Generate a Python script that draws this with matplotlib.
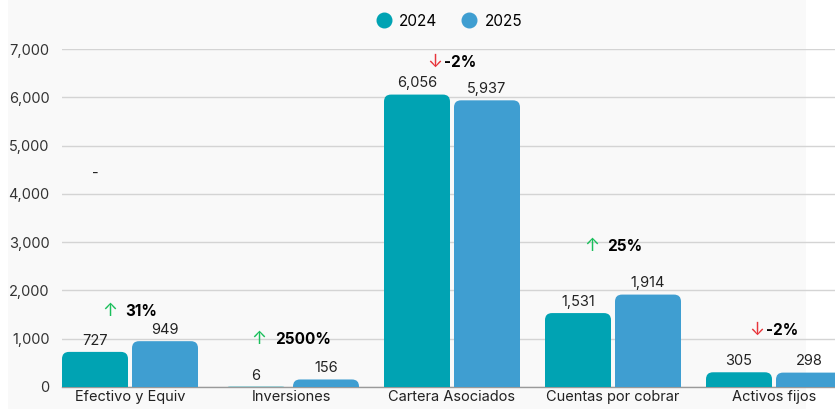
import matplotlib
matplotlib.use("Agg")
import matplotlib.pyplot as plt
from matplotlib.patches import FancyBboxPatch, Rectangle
from matplotlib.offsetbox import TextArea, HPacker, AnnotationBbox

categories = ["Efectivo y Equiv", "Inversiones", "Cartera Asociados", "Cuentas por cobrar", "Activos fijos"]
values_2024 = [727, 6, 6056, 1531, 305]
values_2025 = [949, 156, 5937, 1914, 298]
pct_change = [31, 2500, -2, 25, -2]
pct_label_y = [1570, 990, 6730, 2920, 1180]
series_names = ["2024", "2025"]
y_ticks = [0, 1000, 2000, 3000, 4000, 5000, 6000, 7000]

c2024 = "#00a3b3"
c2025 = "#3f9ed1"
green = "#1bbf5c"
red = "#e8353b"
fam = ["Inter", "DejaVu Sans"]
plt.rcParams["font.family"] = fam

W, H = 835, 409
fig = plt.figure(figsize=(W / 100, H / 100), dpi=100)
fig.patch.set_facecolor("white")
fig.patches.append(Rectangle((8 / W, 0), (806 - 8) / W, 1, transform=fig.transFigure,
                             facecolor="#f9f9f9", edgecolor="none", zorder=-10))

ax = fig.add_axes([62 / W, (H - 387) / H, (835 - 62) / W, (387 - 49) / H])
ax.set_facecolor("none")

x = list(range(len(categories)))
bw = 66 / 161
gap = 4 / 161
ax.set_xlim(-68 / 161, (835 - 130) / 161)
ax.set_ylim(0, 7000)

# rounded bars: draw via bar() then swap for rounded patches
px_x = 161
px_y = 338 / 7000
rad = 7
for vals, col, off in [(values_2024, c2024, -(bw + gap) / 2), (values_2025, c2025, (bw + gap) / 2)]:
    bars = ax.bar([i + off for i in x], vals, width=bw, color=col)
    for b, v in zip(bars, vals):
        b.set_visible(False)
        p = FancyBboxPatch((b.get_x(), -rad / px_y), b.get_width(), v + rad / px_y,
                           boxstyle=f"round,pad=0,rounding_size={rad / px_x}",
                           mutation_aspect=px_x / px_y, facecolor=col, edgecolor="none",
                           zorder=3, clip_on=True)
        ax.add_patch(p)
        ax.annotate(f"{v:,}", (b.get_x() + b.get_width() / 2, v), xytext=(0, 3),
                    textcoords="offset points", ha="center", va="bottom",
                    fontsize=10.5, color="#222222")

# stray dash label seen in the reference
ax.text(-(bw + gap) / 2, 4410, "-", ha="center", va="center", fontsize=10.5, color="#222222")

# percent-change labels
for i, pc, ly in zip(x, pct_change, pct_label_y):
    arrow = "\u2191" if pc >= 0 else "\u2193"
    acol = green if pc >= 0 else red
    a = TextArea(arrow, textprops=dict(color=acol, fontsize=13, family=fam))
    t = TextArea(f"{pc}%", textprops=dict(color="black", fontsize=11, fontweight="bold", family=fam))
    box = HPacker(children=[a, t], align="center", pad=0, sep=6 if pc >= 0 else 1)
    ab = AnnotationBbox(box, (i, ly), frameon=False, box_alignment=(0.5, 0.5),
                        annotation_clip=False)
    ax.add_artist(ab)

ax.set_xticks(x)
ax.set_xticklabels(categories, fontsize=10.5, color="#222222")
ax.set_yticks(y_ticks)
ax.set_yticklabels([f"{t:,}" for t in y_ticks], fontsize=10.5, color="#333333")
ax.tick_params(axis="both", length=0)
ax.tick_params(axis="y", pad=9)
ax.tick_params(axis="x", pad=2)
ax.grid(axis="y", color="#d4d4d4", linewidth=1)
ax.set_axisbelow(True)
for s in ["top", "right", "left"]:
    ax.spines[s].set_visible(False)
ax.spines["bottom"].set_color("#9a9a9a")
ax.spines["bottom"].set_linewidth(1)

handles = [plt.Line2D([], [], marker="o", linestyle="none", markersize=10.5,
                      markerfacecolor=c, markeredgecolor=c) for c in (c2024, c2025)]
fig.legend(handles, series_names, loc="center", bbox_to_anchor=(449 / W, 1 - 21 / H),
           ncol=2, frameon=False, fontsize=11, handletextpad=0.5, columnspacing=1.6,
           handlelength=1.0)

fig.savefig("out.png", dpi=100)
